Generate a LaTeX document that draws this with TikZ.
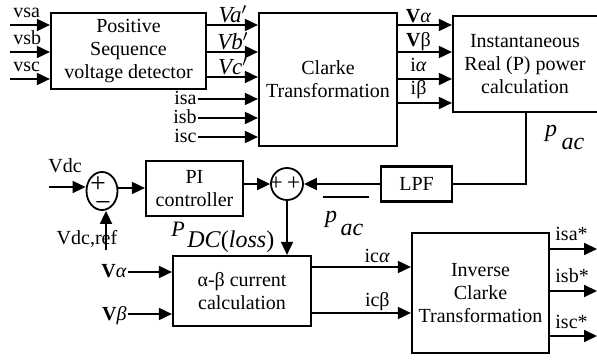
\documentclass[tikz,border=0pt]{standalone}
\usepackage{fontspec}
\setmainfont{Liberation Serif}
\usetikzlibrary{arrows.meta,shapes.geometric}
\tikzset{>={Triangle[length=6.5pt,width=6pt]}}
\tikzset{
  blk/.style={draw, line width=1.1pt, align=center, inner sep=0pt},
  sig/.style={line width=0.9pt, ->},
  wire/.style={line width=0.9pt},
  lbl/.style={inner sep=0pt},
  sumnode/.style={draw, line width=0.9pt, inner sep=0pt},
}
\begin{document}
\begin{tikzpicture}[x=0.5pt,y=-0.5pt,font=\fontsize{10}{11.6}\selectfont]
  \clip (0,0) rectangle (597,362);

  % blocks
  \node[blk, minimum width=77.5pt, minimum height=38pt] (psvd) at (128.5,51) {Positive\\Sequence\\voltage detector};
  \node[blk, minimum width=69pt, minimum height=66.5pt] (clarke) at (328,79.5) {Clarke\\Transformation};
  \node[blk, minimum width=80pt, minimum height=48pt] (irp) at (533,64) {};
  \node[lbl, align=center] (irptxt) at (525,64) {Instantaneous\\Real (P) power\\calculation};
  \node[blk, minimum width=35.5pt, minimum height=17.5pt] (lpf) at (416.5,184) {LPF};
  \node[blk, minimum width=48.5pt, minimum height=27.5pt] (pi) at (194.5,188.5) {PI\\controller};
  \node[blk, minimum width=69pt, minimum height=35pt] (ab) at (242,291) {α-β current\\calculation};
  \node[blk, minimum width=68.5pt, minimum height=60pt] (inv) at (480.5,293) {Inverse\\Clarke\\Transformation};

  % summing junctions
  \node[sumnode, ellipse, minimum width=15.5pt, minimum height=19pt] (sum1) at (102,191) {};
  \node[lbl, align=left, font=\fontsize{14}{9.5}\selectfont] (sum1sg) at (100.5,194) {+\\\hspace*{2.5pt}−};
  \node[sumnode, circle, minimum size=16pt] (sum2) at (287,184) {};
  \node[lbl, font=\fontsize{12}{12}\selectfont] (sum2pp) at (285,184) {+\hspace{2pt}+};

  % three phase voltages in
  \foreach \y/\t in {25/vsa,52/vsb,79/vsc}{
    \coordinate (\t) at (10,\y);
    \draw[sig] (\t) -- (\t -| psvd.west);
    \node[lbl, anchor=base west] at (13,\y-7) {\t};
  }

  % positive sequence voltages
  \foreach \y/\t in {25/a,52/b,77/c}{
    \draw[sig] (psvd.east |- 0,\y) -- (clarke.west |- 0,\y);
    \node[lbl, anchor=base, font=\fontsize{11.5}{12}\selectfont] at (233,\y-2) {\textit{V\t}$'$};
  }

  % source currents
  \foreach \y/\t in {99/isa,118/isb,137/isc}{
    \coordinate (\t) at (198,\y);
    \draw[sig] (\t) -- (\t -| clarke.west);
    \node[lbl, anchor=base east] at (197,\y+6) {\t};
  }

  % alpha-beta quantities
  \draw[sig] (clarke.east |- 0,25) -- (irp.west |- 0,25) node[lbl, pos=0.38, anchor=base, yshift=1pt] {\textbf{V}\textit{α}};
  \draw[sig] (clarke.east |- 0,52) -- (irp.west |- 0,52) node[lbl, pos=0.38, anchor=base, yshift=2.5pt] {\textbf{V}β};
  \draw[sig] (clarke.east |- 0,79) -- (irp.west |- 0,79) node[lbl, pos=0.38, anchor=base, yshift=3.5pt] {i\textit{α}};
  \draw[sig] (clarke.east |- 0,103) -- (irp.west |- 0,103) node[lbl, pos=0.38, anchor=base, yshift=4pt] {iβ};

  % power feedback through LPF
  \coordinate (pcorner) at (526,184);
  \draw[wire] (pcorner |- irp.south) -- (pcorner) -- (lpf.east);
  \draw[sig] (lpf.west) -- (sum2.east);
  \node[lbl, font=\fontsize{12}{12}\selectfont] (pac) at (551,133) {\textit{p}};
  \node[lbl, font=\fontsize{12}{12}\selectfont] (pacsub) at (573,144) {\textit{ac}};
  \draw[wire] (323,197) -- (369,197);
  \node[lbl, font=\fontsize{12}{12}\selectfont] (pbar) at (331,219) {\textit{p}};
  \node[lbl, font=\fontsize{12}{12}\selectfont] (pbarsub) at (352,230) {\textit{ac}};

  % DC link voltage loop
  \coordinate (vdc) at (49,187);
  \draw[sig] (vdc) -- (vdc -| sum1.west);
  \node[lbl, anchor=base] at (65,173) {Vdc};
  \coordinate (vdcref) at (106,250);
  \draw[sig] (vdcref) -- (vdcref |- sum1.south);
  \node[lbl, anchor=base] at (87,245) {Vdc,ref};
  \draw[sig] (sum1.east |- 0,188) -- (pi.west |- 0,188);
  \draw[sig] (pi.east |- sum2.west) -- (sum2.west);
  \draw[sig] (sum2.south) -- (sum2.south |- ab.north);
  \node[lbl, font=\fontsize{11}{11}\selectfont] (pdc) at (178,229) {\textit{P}};
  \node[lbl, anchor=west, font=\fontsize{12}{12}\selectfont] (pdcsub) at (187,242) {\textit{DC}(\textit{loss})};

  % voltages into current calculation
  \foreach \y/\t in {272/α,314/β}{
    \coordinate (v\y) at (128,\y);
    \draw[sig] (v\y) -- (v\y -| ab.west);
    \node[lbl, anchor=base east] at (127,\y+6) {\textbf{V}\textit{\t}};
  }

  % compensating currents
  \draw[sig] (ab.east |- 0,267) -- (inv.west |- 0,267) node[lbl, pos=0.66, anchor=base, yshift=2pt] {ic\textit{α}};
  \draw[sig] (ab.east |- 0,313) -- (inv.west |- 0,313) node[lbl, pos=0.66, anchor=base, yshift=3.5pt] {icβ};

  % reference currents out
  \foreach \y/\t in {249/isa,291/isb,336/isc}{
    \coordinate (\t o) at (597,\y);
    \draw[sig] (inv.east |- \t o) -- (\t o);
    \node[lbl, anchor=base west] at (555,\y-8) {\t*};
  }
\end{tikzpicture}
\end{document}
